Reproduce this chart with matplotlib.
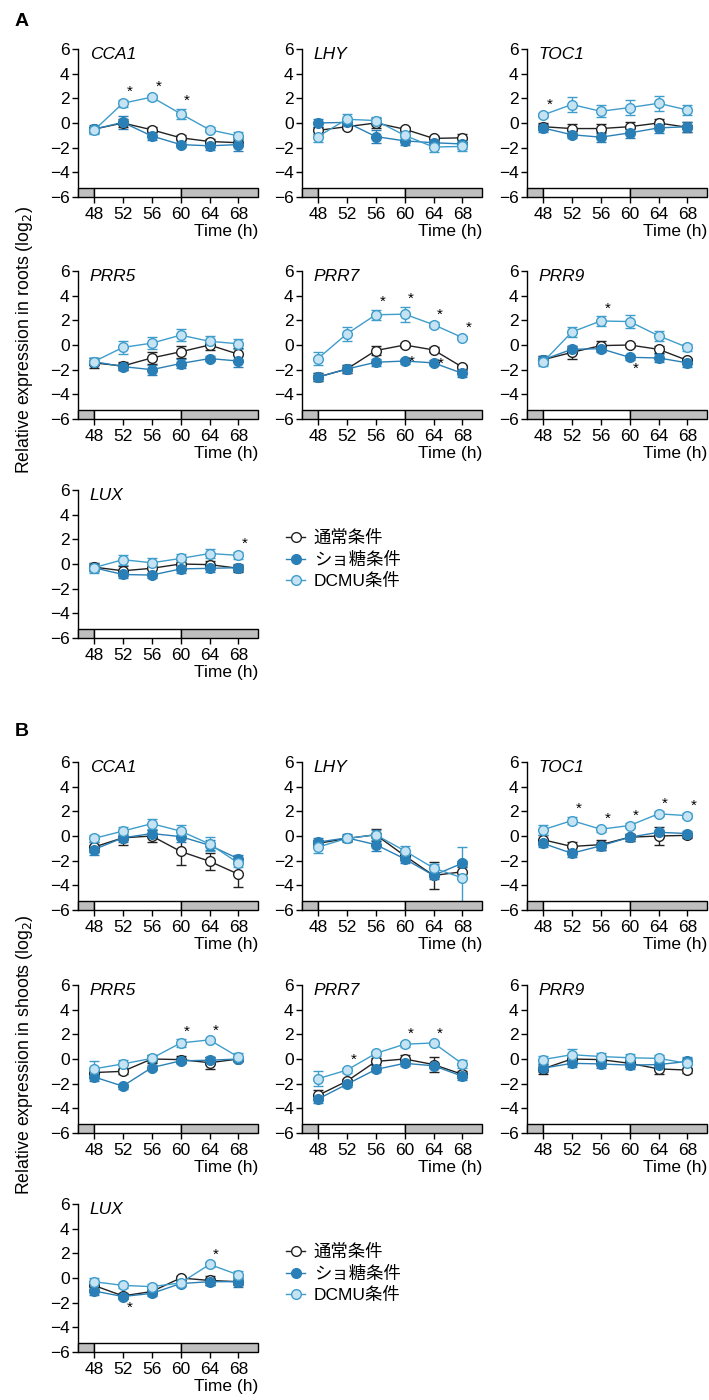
import matplotlib
matplotlib.use("Agg")
import matplotlib.pyplot as plt
from matplotlib.patches import Rectangle
from matplotlib.lines import Line2D

plt.rcParams['font.family'] = ['Liberation Sans', 'Noto Sans CJK JP', 'DejaVu Sans']

times = [48, 52, 56, 60, 64, 68]
genes = ["CCA1", "LHY", "TOC1", "PRR5", "PRR7", "PRR9", "LUX"]
labels = ["通常条件", "ショ糖条件", "DCMU条件"]

# roots (A)
roots_normal = {
    "CCA1": [-0.5, 0.0, -0.55, -1.2, -1.5, -1.6],
    "LHY": [-0.6, -0.3, 0.0, -0.5, -1.25, -1.2],
    "TOC1": [-0.3, -0.45, -0.45, -0.3, 0.0, -0.35],
    "PRR5": [-1.45, -1.7, -1.05, -0.55, 0.0, -0.75],
    "PRR7": [-2.6, -1.95, -0.45, 0.0, -0.4, -1.8],
    "PRR9": [-1.2, -0.6, -0.05, 0.0, -0.35, -1.25],
    "LUX": [-0.25, -0.55, -0.35, 0.0, -0.05, -0.35],
}
roots_normal_err = {
    "CCA1": [0.2, 0.3, 0.2, 0.2, 0.2, 0.3],
    "LHY": [0.3, 0.2, 0.4, 0.2, 0.2, 0.3],
    "TOC1": [0.3, 0.4, 0.4, 0.4, 0.3, 0.4],
    "PRR5": [0.4, 0.3, 0.5, 0.5, 0.4, 0.5],
    "PRR7": [0.3, 0.3, 0.4, 0.2, 0.2, 0.2],
    "PRR9": [0.3, 0.5, 0.4, 0.2, 0.3, 0.2],
    "LUX": [0.3, 0.4, 0.4, 0.3, 0.3, 0.3],
}
roots_sucrose = {
    "CCA1": [-0.5, 0.05, -1.05, -1.75, -1.85, -1.75],
    "LHY": [0.0, 0.05, -1.1, -1.45, -1.6, -1.7],
    "TOC1": [-0.4, -0.95, -1.15, -0.8, -0.4, -0.3],
    "PRR5": [-1.35, -1.75, -2.0, -1.5, -1.1, -1.3],
    "PRR7": [-2.6, -1.95, -1.4, -1.3, -1.45, -2.3],
    "PRR9": [-1.2, -0.35, -0.3, -1.0, -1.05, -1.45],
    "LUX": [-0.3, -0.85, -0.9, -0.4, -0.35, -0.3],
}
roots_sucrose_err = {
    "CCA1": [0.3, 0.5, 0.3, 0.2, 0.3, 0.5],
    "LHY": [0.3, 0.3, 0.5, 0.3, 0.3, 0.4],
    "TOC1": [0.3, 0.3, 0.4, 0.4, 0.4, 0.4],
    "PRR5": [0.3, 0.3, 0.4, 0.4, 0.2, 0.5],
    "PRR7": [0.3, 0.3, 0.3, 0.2, 0.2, 0.3],
    "PRR9": [0.3, 0.3, 0.3, 0.2, 0.3, 0.3],
    "LUX": [0.3, 0.3, 0.2, 0.3, 0.3, 0.3],
}
roots_dcmu = {
    "CCA1": [-0.6, 1.6, 2.1, 0.75, -0.55, -1.05],
    "LHY": [-1.1, 0.3, 0.2, -1.0, -1.95, -1.9],
    "TOC1": [0.65, 1.5, 0.95, 1.25, 1.6, 1.05],
    "PRR5": [-1.35, -0.2, 0.15, 0.8, 0.3, 0.1],
    "PRR7": [-1.1, 0.9, 2.45, 2.5, 1.65, 0.6],
    "PRR9": [-1.4, 1.05, 1.95, 1.9, 0.75, -0.2],
    "LUX": [-0.3, 0.35, 0.1, 0.45, 0.85, 0.7],
}
roots_dcmu_err = {
    "CCA1": [0.3, 0.3, 0.2, 0.4, 0.2, 0.3],
    "LHY": [0.4, 0.4, 0.3, 0.4, 0.4, 0.4],
    "TOC1": [0.2, 0.6, 0.5, 0.6, 0.6, 0.4],
    "PRR5": [0.3, 0.5, 0.5, 0.5, 0.4, 0.4],
    "PRR7": [0.5, 0.6, 0.4, 0.6, 0.2, 0.15],
    "PRR9": [0.3, 0.4, 0.4, 0.5, 0.4, 0.3],
    "LUX": [0.4, 0.4, 0.4, 0.4, 0.4, 0.3],
}
roots_stars = {
    "CCA1": [(52, "dcmu"), (56, "dcmu"), (60, "dcmu")],
    "TOC1": [(48, "dcmu")],
    "PRR7": [(56, "dcmu"), (60, "dcmu"), (64, "dcmu"), (68, "dcmu"),
             (60, "sucrose"), (64, "sucrose")],
    "PRR9": [(56, "dcmu"), (60, "sucrose_below")],
    "LUX": [(68, "dcmu")],
}

# shoots (B)
shoots_normal = {
    "CCA1": [-0.9, -0.15, 0.0, -1.25, -2.05, -3.1],
    "LHY": [-0.6, -0.2, 0.1, -1.6, -3.2, -2.9],
    "TOC1": [-0.3, -0.85, -0.7, -0.1, 0.0, 0.05],
    "PRR5": [-1.1, -1.0, 0.0, -0.05, -0.3, 0.0],
    "PRR7": [-2.95, -1.8, -0.2, 0.0, -0.45, -1.25],
    "PRR9": [-0.8, 0.0, -0.05, -0.35, -0.8, -0.9],
    "LUX": [-0.6, -1.45, -1.1, 0.0, -0.2, -0.3],
}
shoots_normal_err = {
    "CCA1": [0.4, 0.6, 0.5, 1.1, 0.7, 1.0],
    "LHY": [0.3, 0.2, 0.5, 0.3, 1.1, 0.4],
    "TOC1": [0.4, 0.4, 0.4, 0.3, 0.7, 0.2],
    "PRR5": [0.3, 0.2, 0.3, 0.3, 0.5, 0.2],
    "PRR7": [0.4, 0.2, 0.3, 0.3, 0.6, 0.3],
    "PRR9": [0.4, 0.3, 0.3, 0.3, 0.4, 0.2],
    "LUX": [0.3, 0.2, 0.2, 0.2, 0.4, 0.3],
}
shoots_sucrose = {
    "CCA1": [-1.1, -0.15, 0.2, -0.05, -0.75, -1.85],
    "LHY": [-0.5, -0.15, -0.7, -1.85, -3.2, -2.2],
    "TOC1": [-0.6, -1.4, -0.8, -0.1, 0.3, 0.2],
    "PRR5": [-1.45, -2.2, -0.7, -0.15, -0.1, 0.0],
    "PRR7": [-3.25, -2.05, -0.85, -0.35, -0.55, -1.4],
    "PRR9": [-0.75, -0.35, -0.4, -0.5, -0.45, -0.2],
    "LUX": [-1.05, -1.5, -1.25, -0.45, -0.3, -0.3],
}
shoots_sucrose_err = {
    "CCA1": [0.4, 0.3, 0.3, 0.4, 0.4, 0.3],
    "LHY": [0.3, 0.3, 0.5, 0.3, 0.3, 0.2],
    "TOC1": [0.3, 0.3, 0.3, 0.3, 0.2, 0.2],
    "PRR5": [0.3, 0.2, 0.2, 0.2, 0.3, 0.2],
    "PRR7": [0.3, 0.2, 0.2, 0.2, 0.2, 0.3],
    "PRR9": [0.3, 0.3, 0.3, 0.3, 0.3, 0.3],
    "LUX": [0.3, 0.2, 0.2, 0.2, 0.3, 0.4],
}
shoots_dcmu = {
    "CCA1": [-0.2, 0.4, 1.0, 0.4, -0.65, -2.2],
    "LHY": [-0.9, -0.2, 0.1, -1.2, -2.6, -3.4],
    "TOC1": [0.5, 1.25, 0.55, 0.85, 1.8, 1.65],
    "PRR5": [-0.8, -0.4, 0.05, 1.3, 1.55, 0.15],
    "PRR7": [-1.6, -0.9, 0.45, 1.2, 1.3, -0.4],
    "PRR9": [-0.05, 0.35, 0.2, 0.1, 0.05, -0.35],
    "LUX": [-0.3, -0.6, -0.7, -0.4, 1.1, 0.25],
}
shoots_dcmu_err = {
    "CCA1": [0.3, 0.3, 0.4, 0.5, 0.6, 0.3],
    "LHY": [0.5, 0.2, 0.4, 0.4, 0.3, 2.5],
    "TOC1": [0.4, 0.3, 0.2, 0.2, 0.2, 0.2],
    "PRR5": [0.6, 0.3, 0.3, 0.3, 0.1, 0.3],
    "PRR7": [0.6, 0.2, 0.2, 0.2, 0.1, 0.3],
    "PRR9": [0.3, 0.5, 0.3, 0.3, 0.3, 0.5],
    "LUX": [0.3, 0.2, 0.2, 0.2, 0.2, 0.3],
}
shoots_stars = {
    "TOC1": [(52, "dcmu"), (56, "dcmu"), (60, "dcmu"), (64, "dcmu"), (68, "dcmu")],
    "PRR5": [(60, "dcmu"), (64, "dcmu")],
    "PRR7": [(52, "dcmu"), (60, "dcmu"), (64, "dcmu")],
    "LUX": [(52, "sucrose_below"), (64, "dcmu")],
}

dark = "#2a80b6"
light_edge = "#3e9dcb"
light_face = "#c6e3f4"
styles = {
    "normal": dict(color="#222222", mfc="white", mec="#222222"),
    "sucrose": dict(color=dark, mfc=dark, mec=dark),
    "dcmu": dict(color=light_edge, mfc=light_face, mec=light_edge),
}

W, H = 709, 1400
fig = plt.figure(figsize=(W / 100, H / 100), dpi=100)

col_left = [78, 302, 527]
ax_w = 180
ax_h = 148
rows_bottom = {"A": [197, 419, 638], "B": [910, 1133, 1352]}
xmin, xmax = 45.8, 70.7
fs = 12.5


def draw_panel(ax, gene, data, stars):
    for key in ["normal", "sucrose", "dcmu"]:
        mean, err = data[key]
        st = styles[key]
        ax.errorbar(times, mean[gene], yerr=err[gene], color=st["color"], lw=1.0,
                    marker="o", ms=7, mfc=st["mfc"], mec=st["mec"], mew=1.0,
                    capsize=3.5, elinewidth=1.0, capthick=1.0, zorder=3)
    for t, kind in stars.get(gene, []):
        i = times.index(t)
        if kind == "dcmu":
            y = data["dcmu"][0][gene][i] + data["dcmu"][1][gene][i] + 0.05
            ax.text(t + 0.9, y, "*", fontsize=11, ha="center", va="bottom", zorder=6)
        elif kind == "sucrose":
            y = data["sucrose"][0][gene][i] - 0.65
            ax.text(t + 1.0, y, "*", fontsize=11, ha="center", va="bottom", zorder=6)
        else:
            y = data["sucrose"][0][gene][i] - 1.5
            ax.text(t + 0.9, y, "*", fontsize=11, ha="center", va="bottom", zorder=6)
    # light/dark strip
    for x0, x1, fc in [(xmin, 48, "#bfbfbf"), (48, 60, "white"), (60, xmax, "#bfbfbf")]:
        ax.add_patch(Rectangle((x0, -6), x1 - x0, 0.7, facecolor=fc, edgecolor="black",
                               lw=1.0, clip_on=False, zorder=5))
    ax.set_xlim(xmin, xmax)
    ax.set_ylim(-6, 6)
    ax.set_yticks([6, 4, 2, 0, -2, -4, -6])
    ax.set_xticks(times)
    for s in ["top", "right", "bottom"]:
        ax.spines[s].set_visible(False)
    ax.spines["left"].set_linewidth(1.0)
    ax.tick_params(axis="both", direction="out", length=4, width=1.0, labelsize=fs, pad=2)
    ax.tick_params(axis="x", pad=3)
    ax.set_xlabel("Time (h)", loc="right", fontsize=fs, labelpad=1.5)
    ax.text(0.065, 0.965, gene, transform=ax.transAxes, fontsize=fs, style="italic",
            ha="left", va="center")


panels = {
    "A": {"normal": (roots_normal, roots_normal_err),
          "sucrose": (roots_sucrose, roots_sucrose_err),
          "dcmu": (roots_dcmu, roots_dcmu_err)},
    "B": {"normal": (shoots_normal, shoots_normal_err),
          "sucrose": (shoots_sucrose, shoots_sucrose_err),
          "dcmu": (shoots_dcmu, shoots_dcmu_err)},
}
star_sets = {"A": roots_stars, "B": shoots_stars}

for sec in ["A", "B"]:
    for k, gene in enumerate(genes):
        r, c = divmod(k, 3)
        bottom_px = rows_bottom[sec][r]
        ax = fig.add_axes([col_left[c] / W, (H - bottom_px) / H, ax_w / W, ax_h / H])
        draw_panel(ax, gene, panels[sec], star_sets[sec])
        if k == 6:
            handles = [Line2D([0], [0], color=styles[s]["color"], marker="o", ms=7, lw=1.0,
                              mfc=styles[s]["mfc"], mec=styles[s]["mec"])
                       for s in ["normal", "sucrose", "dcmu"]]
            fig.legend(handles, labels, loc="upper left",
                       bbox_to_anchor=(286 / W, 1 - (bottom_px - 108) / H),
                       frameon=False, fontsize=fs, handlelength=1.1, handletextpad=0.5,
                       labelspacing=0.3, borderaxespad=0, borderpad=0)

fig.text(15 / W, 1 - 21 / H, "A", fontsize=14, fontweight="bold", ha="left", va="center")
fig.text(15 / W, 1 - 731 / H, "B", fontsize=14, fontweight="bold", ha="left", va="center")
fig.text(25 / W, 1 - 340 / H, "Relative expression in roots (log$_2$)", rotation=90,
         fontsize=12.8, ha="center", va="center")
fig.text(25 / W, 1 - 1055 / H, "Relative expression in shoots (log$_2$)", rotation=90,
         fontsize=12.8, ha="center", va="center")

fig.savefig("out.png", dpi=100)
